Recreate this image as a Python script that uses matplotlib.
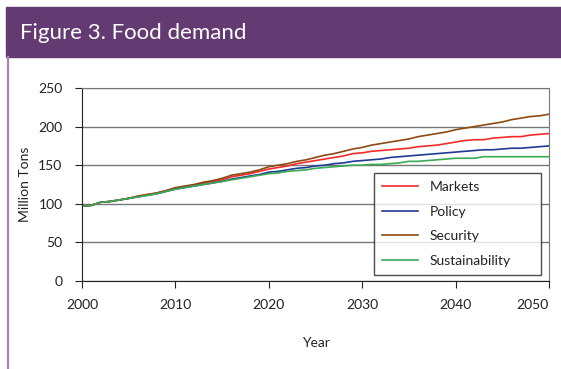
import matplotlib
matplotlib.use('Agg')
import matplotlib.pyplot as plt
from matplotlib.patches import Rectangle
from matplotlib.lines import Line2D

plt.rcParams['font.family'] = ['Lato', 'DejaVu Sans']

years = list(range(2000, 2051))

markets = [97, 98, 102, 103, 105, 107, 110, 112, 114, 117,
           120, 122, 124, 127, 129, 131, 135, 137, 139, 142,
           145, 147, 149, 152, 154, 156, 158, 160, 162, 165,
           166, 168, 169, 170, 171, 172, 174, 175, 176, 178,
           180, 182, 183, 183, 185, 186, 187, 187, 189, 190, 191]

policy = [97, 98, 102, 103, 105, 107, 109, 111, 113, 116,
          119, 121, 123, 125, 127, 129, 132, 134, 136, 138,
          141, 142, 144, 146, 147, 149, 150, 152, 153, 155,
          156, 157, 158, 160, 161, 162, 163, 164, 165, 166,
          167, 168, 169, 170, 170, 171, 172, 172, 173, 174, 175]

security = [97, 98, 102, 103, 105, 107, 110, 112, 114, 117,
            121, 123, 125, 128, 130, 133, 137, 139, 141, 144,
            148, 150, 152, 155, 157, 160, 163, 165, 168, 171,
            173, 176, 178, 180, 182, 184, 187, 189, 191, 193,
            196, 198, 200, 202, 204, 206, 209, 211, 213, 214, 216]

sustainability = [97, 98, 102, 103, 105, 107, 109, 111, 113, 116,
                  119, 121, 123, 125, 127, 129, 131, 133, 135, 137,
                  139, 140, 142, 143, 144, 146, 147, 148, 149, 150,
                  150, 151, 151, 152, 153, 155, 155, 156, 157, 158,
                  159, 159, 159, 161, 161, 161, 161, 161, 161, 161, 161]

series_names = ['Markets', 'Policy', 'Security', 'Sustainability']
series_colors = ['#f42a2a', '#1f3a93', '#8c4a12', '#3aaa55']

W, H = 561, 369
fig = plt.figure(figsize=(W / 100, H / 100), dpi=100)

# purple banner and side line
fig.patches.append(Rectangle((6 / W, 1 - 57 / H), 1 - 6 / W, 50 / H,
                             transform=fig.transFigure, color='#643a72', zorder=0))
fig.lines.append(Line2D([7.5 / W, 7.5 / W], [0, 1 - 57 / H], transform=fig.transFigure,
                        color='#a189ad', lw=1.6))
fig.text(20 / W, 1 - 33 / H, 'Figure 3. Food demand', color='white', fontsize=16,
         va='center', ha='left')

ax = fig.add_axes([82 / W, 88 / H, 467 / W, 193 / H])
for vals, name, col in zip([markets, policy, security, sustainability], series_names, series_colors):
    ax.plot(years, vals, color=col, lw=1.2, label=name)

ax.set_xlim(2000, 2050)
ax.set_ylim(0, 250)
ax.set_xticks(range(2000, 2051, 10))
ax.set_yticks(range(0, 251, 50))
ax.yaxis.grid(True, color='#777777', lw=1)
ax.set_axisbelow(True)
ax.spines['top'].set_color('#777777')
ax.spines['right'].set_color('#777777')
ax.spines['left'].set_color('#222222')
ax.spines['bottom'].set_color('#222222')
ax.tick_params(axis='both', direction='out', length=5, color='#222222',
               labelsize=10, labelcolor='#222222')
ax.tick_params(axis='y', pad=9)
ax.tick_params(axis='x', pad=8)
ax.get_xticklabels()[-1].set_ha('right')

ax.set_xlabel('Year', fontsize=10, color='#222222', labelpad=19)
ax.set_ylabel('Million Tons', fontsize=10, color='#222222', labelpad=5)

leg = ax.legend(loc='upper left', bbox_to_anchor=(374 / W, 95 / H, 167 / W, 101 / H),
                bbox_transform=fig.transFigure, mode='expand', borderaxespad=0,
                fancybox=False, fontsize=10, handlelength=2.6, labelspacing=0.9,
                borderpad=0.6, handletextpad=0.8)
leg.get_frame().set_edgecolor('#222222')
leg.get_frame().set_linewidth(1)
for t in leg.get_texts():
    t.set_color('#222222')

fig.savefig('out.png', dpi=100)
